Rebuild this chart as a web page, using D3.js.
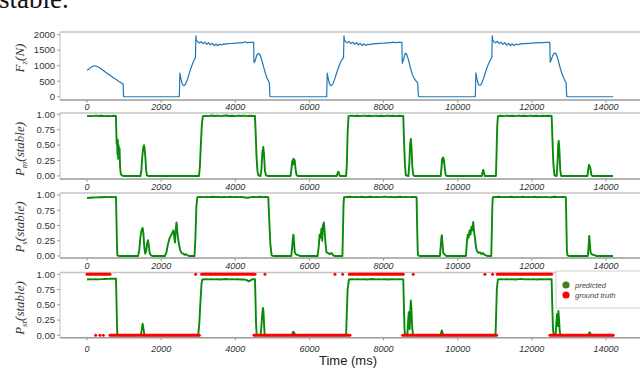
<!DOCTYPE html>
<html>
<head>
<meta charset="utf-8">
<script src="https://cdn.jsdelivr.net/npm/d3@7"></script>
<style>
  body { margin: 0; background: #fff; }
  svg { display: block; }
</style>
</head>
<body>
<svg id="chart"></svg>
<script>
// tick values
const xTicks = [0, 2000, 4000, 6000, 8000, 10000, 12000, 14000];
const fzTicks = [0, 500, 1000, 1500, 2000];
const probTicks = [0, 0.25, 0.5, 0.75, 1];

// [time (ms), Fz (N)]
const fzData = [
  [0,850],[40,880],[90,930],[140,975],[190,995],[240,990],[300,960],[380,900],[460,830],[540,760],[620,690],[700,620],[780,560],[850,500],[910,460],[960,420],[975,400],[985,20],[1000,0],
  [2490,0],[2505,760],[2530,600],[2560,450],[2590,370],[2620,360],[2660,410],[2710,560],[2760,760],[2810,940],[2860,1100],[2900,1200],[2925,1270],[2938,1960],[2950,1820],[2980,1780],[3030,1730],[3080,1770],[3130,1710],[3180,1760],[3230,1690],[3280,1740],[3330,1670],[3380,1720],[3430,1650],[3480,1700],[3530,1640],[3580,1690],[3630,1670],[3680,1700],[3740,1695],[3800,1710],[3900,1715],[4000,1725],[4100,1735],[4200,1740],[4260,1770],[4300,1745],[4400,1750],[4495,1750],[4505,1100],[4540,1170],[4580,1340],[4620,1400],[4660,1370],[4710,1200],[4760,980],[4810,760],[4850,610],[4890,520],[4920,440],[4935,20],[4950,0],
  [6465,0],[6480,760],[6505,600],[6535,440],[6565,360],[6600,370],[6640,430],[6690,600],[6740,790],[6790,960],[6840,1110],[6890,1220],[6920,1260],[6932,1960],[6945,1830],[6975,1770],[7020,1740],[7070,1780],[7120,1710],[7170,1760],[7220,1690],[7270,1740],[7320,1670],[7370,1720],[7420,1650],[7470,1700],[7520,1650],[7570,1690],[7630,1680],[7700,1700],[7800,1710],[7900,1720],[8000,1725],[8100,1735],[8200,1740],[8250,1760],[8300,1745],[8400,1750],[8495,1750],[8505,1080],[8540,1200],[8585,1400],[8620,1380],[8670,1200],[8720,950],[8770,740],[8820,600],[8870,520],[8920,450],[8940,20],[8955,0],
  [10475,0],[10490,770],[10515,600],[10545,450],[10575,370],[10610,370],[10650,440],[10700,600],[10750,790],[10800,970],[10850,1110],[10895,1220],[10920,1260],[10932,1960],[10945,1830],[10975,1770],[11020,1740],[11070,1780],[11120,1710],[11170,1760],[11220,1690],[11270,1740],[11320,1660],[11370,1720],[11420,1650],[11470,1700],[11520,1650],[11570,1690],[11630,1680],[11700,1700],[11800,1710],[11900,1720],[12000,1725],[12100,1735],[12200,1740],[12300,1745],[12400,1750],[12485,1750],[12495,1110],[12530,1220],[12580,1380],[12622,1410],[12660,1370],[12710,1180],[12760,950],[12810,740],[12860,600],[12900,500],[12925,450],[12940,20],[12955,0],[14195,0]
];

// [time (ms), P_m(stable)]
const pmData = [
  [0,0.97],[80,0.975],[160,0.97],[240,0.978],[320,0.972],[400,0.976],[480,0.97],[560,0.975],[640,0.971],[720,0.977],[780,0.972],[790,0.75],[800,0.52],[812,0.6],[822,0.35],[832,0.58],[842,0.28],[852,0.5],[865,0.3],[878,0.45],[892,0.15],[910,0.04],[935,0.01],[980,0],
  [1440,0],[1465,0.08],[1490,0.3],[1515,0.45],[1537,0.5],[1555,0.44],[1575,0.3],[1595,0.1],[1615,0.01],[1650,0],
  [3020,0],[3045,0.15],[3070,0.5],[3100,0.85],[3125,0.97],[3200,0.975],[3280,0.97],[3360,0.98],[3440,0.972],[3520,0.978],[3600,0.97],[3680,0.976],[3760,0.98],[3840,0.972],[3920,0.977],[4000,0.971],[4080,0.978],[4160,0.973],[4240,0.978],[4320,0.97],[4400,0.976],[4480,0.973],[4530,0.975],[4550,0.7],[4570,0.35],[4595,0.1],[4620,0.01],[4680,0],[4705,0.1],[4730,0.38],[4755,0.47],[4775,0.35],[4800,0.08],[4830,0.01],[4870,0],
  [5490,0],[5515,0.12],[5535,0.24],[5550,0.18],[5565,0.28],[5580,0.2],[5600,0.26],[5625,0.12],[5650,0.02],[5690,0],
  [6740,0],[6760,0.05],[6780,0.07],[6800,0.04],[6820,0],
  [6990,0],[7010,0.2],[7030,0.7],[7055,0.97],[7140,0.978],[7220,0.972],[7300,0.976],[7380,0.97],[7460,0.979],[7540,0.973],[7620,0.977],[7700,0.971],[7780,0.978],[7860,0.972],[7940,0.976],[8020,0.97],[8100,0.978],[8180,0.973],[8260,0.977],[8340,0.971],[8420,0.976],[8500,0.972],
  [8531,0.974],[8550,0.6],[8575,0.2],[8600,0.01],[8670,0],[8695,0.2],[8715,0.5],[8735,0.6],[8755,0.45],[8775,0.15],[8800,0.02],[8830,0],
  [9540,0],[9560,0.12],[9580,0.28],[9595,0.22],[9610,0.3],[9630,0.25],[9655,0.1],[9680,0.01],[9710,0],
  [10650,0],[10670,0.06],[10690,0.1],[10710,0.05],[10730,0],
  [11030,0],[11045,0.3],[11065,0.8],[11085,0.97],[11160,0.977],[11240,0.971],[11320,0.978],[11400,0.972],[11480,0.976],[11560,0.97],[11640,0.979],[11720,0.973],[11800,0.976],[11880,0.971],[11960,0.978],[12040,0.972],[12120,0.977],[12200,0.97],[12280,0.976],[12360,0.973],[12440,0.977],[12510,0.972],
  [12533,0.975],[12555,0.6],[12580,0.2],[12610,0.01],[12670,0],[12695,0.25],[12712,0.52],[12725,0.57],[12745,0.4],[12765,0.1],[12790,0],
  [13500,0],[13520,0.1],[13540,0.18],[13560,0.16],[13580,0.12],[13605,0.02],[13630,0],[14190,0]
];

// [time (ms), P_s(stable)]
const psData = [
  [0,0.95],[80,0.955],[160,0.96],[240,0.962],[320,0.965],[400,0.963],[480,0.967],[560,0.965],[640,0.968],[720,0.966],[782,0.968],[795,0.6],[808,0.2],[818,0.01],[860,0],
  [1380,0],[1410,0.1],[1440,0.3],[1470,0.42],[1500,0.46],[1520,0.38],[1545,0.15],[1570,0.04],[1595,0.08],[1620,0.2],[1645,0.26],[1665,0.18],[1690,0.05],[1725,0.01],[1760,0],
  [2100,0],[2140,0.05],[2180,0.18],[2220,0.28],[2260,0.33],[2300,0.38],[2330,0.42],[2355,0.3],[2375,0.22],[2395,0.45],[2415,0.55],[2435,0.4],[2455,0.3],[2480,0.2],[2510,0.1],[2550,0.05],[2590,0.04],[2630,0.02],[2670,0.03],[2710,0.01],[2750,0],
  [2900,0],[2925,0.3],[2950,0.8],[2975,0.965],[3060,0.968],[3140,0.965],[3220,0.97],[3300,0.966],[3380,0.972],[3460,0.967],[3540,0.97],[3620,0.964],[3700,0.969],[3780,0.966],[3860,0.971],[3940,0.965],[4020,0.969],[4100,0.966],[4180,0.97],[4260,0.958],[4340,0.955],[4420,0.965],[4500,0.97],[4580,0.966],[4660,0.972],[4740,0.965],[4820,0.969],
  [4890,0.965],[4915,0.6],[4945,0.2],[4980,0.01],[5020,0],
  [5510,0],[5535,0.15],[5555,0.3],[5568,0.35],[5585,0.22],[5605,0.06],[5630,0.03],[5670,0.02],[5710,0.01],[5760,0],
  [6220,0],[6250,0.15],[6275,0.35],[6300,0.3],[6325,0.45],[6345,0.25],[6365,0.5],[6390,0.55],[6410,0.4],[6435,0.2],[6460,0.06],[6500,0.05],[6550,0.03],[6600,0.05],[6640,0.01],[6680,0],
  [6890,0],[6905,0.4],[6920,0.85],[6935,0.965],[7010,0.968],[7090,0.972],[7170,0.965],[7250,0.97],[7330,0.966],[7410,0.971],[7490,0.964],[7570,0.968],[7650,0.972],[7730,0.966],[7810,0.97],[7890,0.965],[7970,0.969],[8050,0.972],[8130,0.966],[8210,0.97],[8290,0.964],[8370,0.968],[8450,0.972],[8530,0.966],[8610,0.97],[8690,0.965],[8770,0.969],[8850,0.967],
  [8891,0.965],[8905,0.5],[8920,0.1],[8935,0.01],[8970,0],
  [9520,0],[9540,0.15],[9560,0.3],[9572,0.34],[9590,0.2],[9610,0.05],[9640,0.03],[9670,0.01],[9700,0],
  [10220,0],[10245,0.2],[10270,0.35],[10295,0.3],[10320,0.42],[10345,0.35],[10370,0.48],[10395,0.42],[10419,0.56],[10440,0.4],[10465,0.3],[10490,0.15],[10520,0.08],[10560,0.05],[10600,0.06],[10640,0.03],[10680,0.05],[10720,0.02],[10760,0.01],[10800,0],
  [10905,0],[10920,0.4],[10935,0.85],[10950,0.965],[11030,0.968],[11110,0.971],[11190,0.965],[11270,0.97],[11350,0.966],[11430,0.972],[11510,0.964],[11590,0.969],[11670,0.966],[11750,0.971],[11830,0.965],[11910,0.97],[11990,0.966],[12070,0.972],[12150,0.964],[12230,0.969],[12310,0.965],[12390,0.97],[12470,0.962],[12550,0.968],[12630,0.972],[12710,0.966],[12790,0.97],[12870,0.967],
  [12918,0.965],[12932,0.5],[12945,0.1],[12960,0.01],[13000,0],
  [13510,0],[13530,0.15],[13548,0.33],[13565,0.2],[13585,0.05],[13610,0.03],[13650,0.02],[13700,0.01],[13740,0],[14190,0]
];

// [time (ms), P_st(stable)] predicted
const pstData = [
  [0,0.915],[80,0.92],[160,0.918],[240,0.922],[320,0.917],[400,0.921],[480,0.924],[560,0.926],[640,0.93],[720,0.928],[782,0.93],[795,0.6],[808,0.2],[818,0.01],[860,0],
  [1450,0],[1475,0.08],[1500,0.19],[1520,0.12],[1545,0.02],[1570,0],
  [3000,0],[3030,0.2],[3060,0.55],[3090,0.85],[3110,0.915],[3190,0.92],[3270,0.917],[3350,0.922],[3430,0.918],[3510,0.921],[3590,0.916],[3670,0.92],[3750,0.923],[3830,0.918],[3910,0.921],[3990,0.917],[4070,0.92],[4150,0.915],[4230,0.918],[4310,0.905],[4360,0.885],[4400,0.895],[4440,0.915],[4490,0.922],[4531,0.92],[4545,0.6],[4560,0.2],[4576,0.01],[4680,0],[4700,0.1],[4720,0.3],[4745,0.45],[4760,0.4],[4775,0.2],[4790,0.03],[4810,0],
  [5530,0],[5550,0.04],[5565,0.06],[5590,0.04],[5615,0],
  [6990,0],[7005,0.3],[7030,0.75],[7066,0.915],[7150,0.92],[7230,0.917],[7310,0.922],[7390,0.918],[7470,0.921],[7550,0.916],[7630,0.92],[7710,0.923],[7790,0.918],[7870,0.921],[7950,0.917],[8030,0.92],[8110,0.915],[8190,0.919],[8270,0.922],[8350,0.918],[8430,0.921],[8500,0.918],
  [8531,0.92],[8548,0.5],[8565,0.1],[8580,0.01],[8640,0],[8660,0.2],[8680,0.38],[8695,0.2],[8705,0.1],[8720,0.4],[8735,0.57],[8750,0.45],[8770,0.15],[8790,0.02],[8810,0],
  [9540,0],[9555,0.05],[9570,0.08],[9590,0.05],[9610,0],
  [11020,0],[11035,0.3],[11055,0.75],[11084,0.918],[11160,0.921],[11240,0.917],[11320,0.922],[11400,0.918],[11480,0.92],[11560,0.916],[11640,0.921],[11720,0.923],[11800,0.918],[11880,0.92],[11960,0.917],[12040,0.921],[12120,0.916],[12200,0.92],[12280,0.922],[12360,0.918],[12440,0.921],[12510,0.919],
  [12533,0.92],[12550,0.5],[12570,0.1],[12590,0.01],[12640,0],[12660,0.2],[12680,0.35],[12695,0.25],[12705,0.15],[12715,0.4],[12730,0.3],[12750,0.08],[12770,0],
  [13530,0],[13545,0.04],[13560,0.05],[13580,0.03],[13600,0],[14190,0]
];

// ground truth: [start ms, end ms, label] runs and isolated samples [ms, label]
const gtRuns = [[0,620,1],[620,3030,0],[3092,4531,1],[4504,7093,0],[7075,8531,1],[8514,11050,0],[11066,12533,1],[12487,14195,0]];
const gtDots = [[235,0],[350,0],[440,0],[2930,1],[4800,1],[6689,1],[6896,1],[8800,1],[10734,1],[10940,1]];

class StabilityFigure {

    constructor(el) {
        this.svg = d3.select(el).attr("width", 640).attr("height", 368);
        this.x = d3.scaleLinear().domain([0, 14000]).range([87, 606]);
        this.left = 60;
    }

    panel(p) {
        const svg = this.svg, x = this.x;
        const y = d3.scaleLinear().domain(p.domain).range([p.bottom, p.top]);
        const g = svg.append("g");

        // frame
        g.append("line").attr("x1", this.left).attr("x2", 640).attr("y1", p.top).attr("y2", p.top)
            .attr("stroke", "#c4c4c4").attr("stroke-width", 1.3);
        g.append("line").attr("x1", this.left).attr("x2", this.left).attr("y1", p.top).attr("y2", p.bottom)
            .attr("stroke", "#c4c4c4").attr("stroke-width", 1);
        g.append("line").attr("x1", this.left).attr("x2", 640).attr("y1", p.bottom).attr("y2", p.bottom)
            .attr("stroke", "#9a9a9a").attr("stroke-width", 1.5);

        // y ticks
        p.ticks.forEach(t => {
            g.append("line").attr("x1", this.left - 3).attr("x2", this.left).attr("y1", y(t)).attr("y2", y(t))
                .attr("stroke", "#888").attr("stroke-width", 0.8);
            g.append("text").attr("x", this.left - 5).attr("y", y(t) + 3.3)
                .attr("text-anchor", "end").attr("font-family", "Liberation Sans, Arial, sans-serif")
                .attr("font-size", "9.5px").attr("fill", "#333").text(p.fmt(t));
        });

        // x ticks
        xTicks.forEach(t => {
            g.append("line").attr("x1", x(t)).attr("x2", x(t)).attr("y1", p.bottom + 0.8).attr("y2", p.bottom + 2.5)
                .attr("stroke", "#666").attr("stroke-width", 0.8);
            g.append("text").attr("x", x(t)).attr("y", p.tickY)
                .attr("text-anchor", "middle").attr("font-family", "Liberation Sans, Arial, sans-serif")
                .attr("font-style", "italic").attr("font-size", "9px").attr("fill", "#333").text(t);
        });

        // y label
        const lab = g.append("text")
            .attr("transform", "translate(24," + p.labelY + ") rotate(-90)")
            .attr("text-anchor", "middle").attr("font-family", "Liberation Serif, Times New Roman, serif")
            .attr("font-style", "italic").attr("font-size", "13px").attr("fill", "#333");
        lab.append("tspan").text(p.label[0]);
        lab.append("tspan").attr("dy", 3).attr("font-size", "9px").text(p.label[1]);
        lab.append("tspan").attr("dy", -3).text(p.label[2]);

        const line = d3.line().x(d => x(d[0])).y(d => y(d[1]));
        g.append("path").datum(p.data).attr("d", line).attr("fill", "none")
            .attr("stroke", p.color).attr("stroke-width", p.width).attr("stroke-linejoin", "round");
        return {g, y};
    }

    draw() {
        const svg = this.svg, x = this.x;
        const f2 = d3.format(".2f");

        // cropped caption text from the page above the figure
        svg.append("text").attr("x", -1).attr("y", 8)
            .attr("font-family", "Liberation Serif, Times New Roman, serif").attr("font-size", "27px")
            .attr("fill", "#111").text("stable.");

        this.panel({top: 32, bottom: 100, domain: [-105, 2085], ticks: fzTicks, fmt: d => d,
            tickY: 110, labelY: 58, label: ["F", "z", "(N)"], data: fzData, color: "#1f77b4", width: 1.2});
        this.panel({top: 113, bottom: 179, domain: [-0.049, 1.021], ticks: probTicks, fmt: f2,
            tickY: 190, labelY: 149, label: ["P", "m", "(stable)"], data: pmData, color: "#0a8a0a", width: 1.9});
        this.panel({top: 193, bottom: 258, domain: [-0.033, 1.033], ticks: probTicks, fmt: f2,
            tickY: 269, labelY: 227, label: ["P", "s", "(stable)"], data: psData, color: "#0a8a0a", width: 1.9});
        const p4 = this.panel({top: 272.5, bottom: 337.7, domain: [-0.039, 1.03], ticks: probTicks, fmt: f2,
            tickY: 352, labelY: 308, label: ["P", "st", "(stable)"], data: pstData, color: "#0a8a0a", width: 1.9});

        // ground truth on top
        p4.g.selectAll(".gt").data(gtRuns).enter().append("line")
            .attr("x1", d => x(d[0])).attr("x2", d => x(d[1]))
            .attr("y1", d => p4.y(d[2])).attr("y2", d => p4.y(d[2]))
            .attr("stroke", "#ff0000").attr("stroke-width", 3).attr("stroke-linecap", "round");
        p4.g.selectAll(".gtd").data(gtDots).enter().append("circle")
            .attr("cx", d => x(d[0])).attr("cy", d => p4.y(d[1])).attr("r", 1.5).attr("fill", "#ff0000");

        // legend
        const lg = svg.append("g").attr("transform", "translate(556,271)");
        lg.append("rect").attr("width", 100).attr("height", 37).attr("fill", "#fff").attr("stroke", "#cfcfcf");
        [["predicted", "#4a7a26"], ["ground truth", "#ff0000"]].forEach((d, i) => {
            lg.append("circle").attr("cx", 10).attr("cy", 14 + i * 10).attr("r", 3.6).attr("fill", d[1]);
            lg.append("text").attr("x", 19).attr("y", 16.5 + i * 10)
                .attr("font-family", "Liberation Sans, Arial, sans-serif").attr("font-style", "italic")
                .attr("font-size", "7.5px").attr("fill", "#444").text(d[0]);
        });

        svg.append("text").attr("x", 348).attr("y", 365).attr("text-anchor", "middle")
            .attr("font-family", "Liberation Sans, Arial, sans-serif").attr("font-size", "13px")
            .attr("fill", "#222").text("Time (ms)");
    }
}

new StabilityFigure("#chart").draw();
</script>
</body>
</html>
